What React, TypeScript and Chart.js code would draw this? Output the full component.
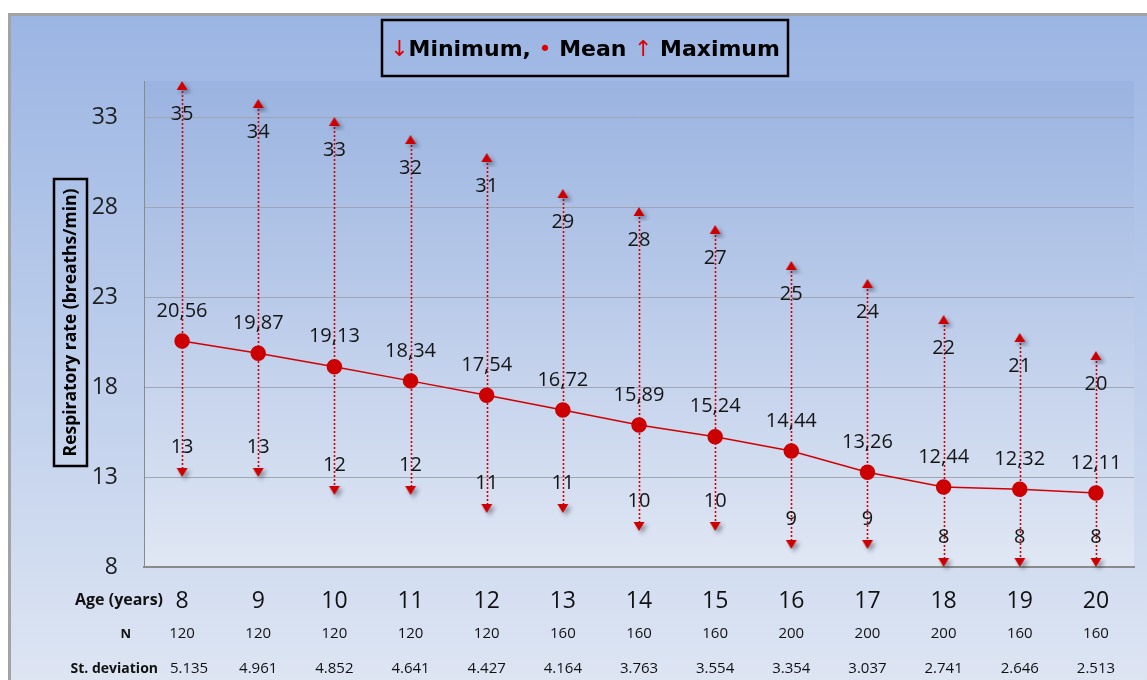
import React, { useEffect, useRef } from "react";
import { Chart, registerables } from "chart.js";

Chart.register(...registerables);

const ages = ["8", "9", "10", "11", "12", "13", "14", "15", "16", "17", "18", "19", "20"];
const maxValues = [35, 34, 33, 32, 31, 29, 28, 27, 25, 24, 22, 21, 20];
const meanValues = [20.56, 19.87, 19.13, 18.34, 17.54, 16.72, 15.89, 15.24, 14.44, 13.26, 12.44, 12.32, 12.11];
const minValues = [13, 13, 12, 12, 11, 11, 10, 10, 9, 9, 8, 8, 8];
const nValues = ["120", "120", "120", "120", "120", "160", "160", "160", "200", "200", "200", "160", "160"];
const sdValues = ["5.135", "4.961", "4.852", "4.641", "4.427", "4.164", "3.763", "3.554", "3.354", "3.037", "2.741", "2.646", "2.513"];
const yTicks = [8, 13, 18, 23, 28, 33];
const legendText = ["↓", "Minimum, ", "•", " Mean ", "↑", " Maximum"];
const yTitle = "Respiratory rate (breaths/min)";
const rowTitles = ["Age (years)", "N", "St. deviation"];

const RED = "#cc0000";
const SANS = "'Open Sans', 'DejaVu Sans', sans-serif";

function makeTriangle(up: boolean): HTMLCanvasElement {
  const c = document.createElement("canvas");
  c.width = 28;
  c.height = 28;
  const ctx = c.getContext("2d")!;
  ctx.shadowColor = "rgba(40,40,60,0.45)";
  ctx.shadowBlur = 4;
  ctx.shadowOffsetX = 3;
  ctx.shadowOffsetY = 3;
  ctx.fillStyle = RED;
  ctx.beginPath();
  if (up) {
    ctx.moveTo(14, 14);
    ctx.lineTo(19.5, 23);
    ctx.lineTo(8.5, 23);
  } else {
    ctx.moveTo(14, 14);
    ctx.lineTo(19.5, 5);
    ctx.lineTo(8.5, 5);
  }
  ctx.closePath();
  ctx.fill();
  return c;
}

const backgroundPlugin = {
  id: "bgPlugin",
  beforeDraw(chart: any) {
    const { ctx, width, height, chartArea: ca } = chart;
    ctx.save();
    ctx.fillStyle = "#ffffff";
    ctx.fillRect(0, 0, width, height);
    const g = ctx.createLinearGradient(0, 14, 0, height);
    g.addColorStop(0, "#9bb5e3");
    g.addColorStop(1, "#dde5f3");
    ctx.fillStyle = g;
    ctx.fillRect(9, 14, width, height);
    ctx.strokeStyle = "#a3a3a3";
    ctx.lineWidth = 3;
    ctx.strokeRect(9.5, 14.5, width + 20, height + 20);
    const g2 = ctx.createLinearGradient(0, ca.top, 0, ca.bottom);
    g2.addColorStop(0, "#9ab3e0");
    g2.addColorStop(1, "#e0e7f4");
    ctx.fillStyle = g2;
    ctx.fillRect(ca.left, ca.top, ca.right - ca.left, ca.bottom - ca.top);
    ctx.restore();
  },
};

const whiskerPlugin = {
  id: "whiskerPlugin",
  beforeDatasetsDraw(chart: any) {
    const { ctx } = chart;
    const xs = chart.scales.x;
    const ys = chart.scales.y;
    ctx.save();
    ctx.strokeStyle = "#d40000";
    ctx.lineWidth = 1.6;
    ctx.setLineDash([2, 2]);
    for (let i = 0; i < ages.length; i++) {
      const x = Math.round(xs.getPixelForValue(i)) + 0.5;
      ctx.beginPath();
      ctx.moveTo(x, ys.getPixelForValue(maxValues[i]) + 6);
      ctx.lineTo(x, ys.getPixelForValue(minValues[i]) - 6);
      ctx.stroke();
    }
    ctx.restore();
  },
};

const labelPlugin = {
  id: "labelPlugin",
  afterDatasetsDraw(chart: any) {
    const { ctx } = chart;
    ctx.save();
    ctx.fillStyle = "#151515";
    ctx.textAlign = "center";
    ctx.textBaseline = "middle";
    ctx.font = `20px ${SANS}`;
    const meanMeta = chart.getDatasetMeta(0);
    const maxMeta = chart.getDatasetMeta(1);
    const minMeta = chart.getDatasetMeta(2);
    meanMeta.data.forEach((p: any, i: number) => {
      ctx.fillText(meanValues[i].toFixed(2).replace(".", ","), p.x, p.y - 30);
    });
    maxMeta.data.forEach((p: any, i: number) => {
      ctx.fillText(String(maxValues[i]), p.x, p.y + 33);
    });
    minMeta.data.forEach((p: any, i: number) => {
      ctx.fillText(String(minValues[i]), p.x, p.y - 30);
    });
    ctx.restore();
  },
};

const annotationPlugin = {
  id: "annotationPlugin",
  afterDraw(chart: any) {
    const { ctx } = chart;
    const xs = chart.scales.x;
    ctx.save();

    // Legend box
    ctx.strokeStyle = "#000";
    ctx.lineWidth = 2.5;
    ctx.strokeRect(382, 20, 406, 56);
    const baseSize = 22;
    const fontFor = (i: number, size: number) =>
      i % 2 === 0 ? `${size}px 'DejaVu Sans', sans-serif` : `bold ${size}px 'DejaVu Sans', sans-serif`;
    let total = 0;
    legendText.forEach((t, i) => {
      ctx.font = fontFor(i, baseSize);
      total += ctx.measureText(t).width;
    });
    const scale = 390 / total;
    const size = baseSize * Math.min(scale, 1.1);
    let tw = 0;
    legendText.forEach((t, i) => {
      ctx.font = fontFor(i, size);
      tw += ctx.measureText(t).width;
    });
    let x = 585 - tw / 2;
    ctx.textBaseline = "middle";
    ctx.textAlign = "left";
    legendText.forEach((t, i) => {
      ctx.font = fontFor(i, size);
      ctx.fillStyle = i % 2 === 0 ? "#e00000" : "#000";
      ctx.fillText(t, x, 50);
      x += ctx.measureText(t).width;
    });

    // Y title box
    ctx.lineWidth = 2.5;
    ctx.strokeStyle = "#000";
    ctx.strokeRect(54, 179, 33, 287);
    ctx.save();
    ctx.translate(71, 322.5);
    ctx.rotate(-Math.PI / 2);
    ctx.fillStyle = "#000";
    ctx.textAlign = "center";
    ctx.textBaseline = "middle";
    ctx.font = `bold 15px ${SANS}`;
    const w = ctx.measureText(yTitle).width;
    const fs = Math.min(18, (15 * 268) / w);
    ctx.font = `bold ${fs}px ${SANS}`;
    ctx.fillText(yTitle, 0, 0);
    ctx.restore();

    // Table
    ctx.fillStyle = "#111";
    ctx.textBaseline = "middle";
    ctx.textAlign = "right";
    ctx.font = `bold 16px ${SANS}`;
    ctx.fillText(rowTitles[0], 163, 600);
    ctx.font = `bold 13px ${SANS}`;
    ctx.fillText(rowTitles[1], 131, 634);
    ctx.font = `bold 14px ${SANS}`;
    ctx.fillText(rowTitles[2], 158, 669);
    ctx.textAlign = "center";
    for (let i = 0; i < ages.length; i++) {
      const cx = xs.getPixelForValue(i);
      ctx.font = `23px ${SANS}`;
      ctx.fillText(ages[i], cx, 601);
      ctx.font = `15px ${SANS}`;
      ctx.fillText(nValues[i], cx, 634);
      ctx.fillText(sdValues[i], cx + (i === 0 ? 7 : 0), 669);
    }
    ctx.restore();
  },
};

export default function App() {
  const ref = useRef<HTMLCanvasElement | null>(null);
  useEffect(() => {
    document.body.style.margin = "0";
    if (!ref.current) return;
    const upImg = makeTriangle(true);
    const downImg = makeTriangle(false);
    const chart = new Chart(ref.current, {
      type: "line",
      data: {
        labels: ages,
        datasets: [
          {
            label: "Mean",
            data: meanValues,
            borderColor: "#d00000",
            borderWidth: 1.5,
            pointRadius: 7,
            pointBackgroundColor: RED,
            pointBorderColor: RED,
            tension: 0,
            clip: false as any,
          },
          {
            label: "Maximum",
            data: maxValues,
            showLine: false,
            pointStyle: upImg as any,
            clip: false as any,
          },
          {
            label: "Minimum",
            data: minValues,
            showLine: false,
            pointStyle: downImg as any,
            clip: false as any,
          },
        ],
      },
      options: {
        responsive: false,
        animation: false,
        layout: { padding: { top: 81, right: 13, bottom: 113, left: 0 } },
        plugins: {
          legend: { display: false },
          tooltip: { enabled: false },
        },
        scales: {
          x: {
            type: "category",
            offset: true,
            grid: { display: false, drawTicks: false },
            ticks: { display: false },
            border: { display: true, color: "#8a8a8a", width: 2 },
          },
          y: {
            min: 8,
            max: 35,
            afterBuildTicks: (s: any) => {
              s.ticks = yTicks.map((v) => ({ value: v }));
            },
            afterFit: (s: any) => {
              s.width = 144;
            },
            grid: { color: "#9ea6b4", lineWidth: 1, drawTicks: false },
            border: { display: true, color: "#8a8a8a", width: 1 },
            ticks: {
              padding: 26,
              color: "#1e1e1e",
              font: { family: "'Open Sans', 'DejaVu Sans', sans-serif", size: 23 },
            },
          },
        },
      },
      plugins: [backgroundPlugin, whiskerPlugin, labelPlugin, annotationPlugin],
    });
    return () => chart.destroy();
  }, []);
  return (
    <div style={{ width: 1147, height: 680 }}>
      <canvas ref={ref} width={1147} height={680} style={{ display: "block" }} />
    </div>
  );
}
